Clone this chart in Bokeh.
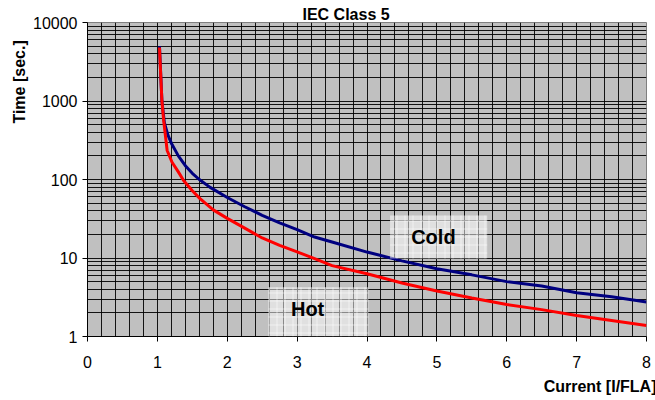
from bokeh.plotting import figure
from bokeh.models import (FixedTicker, NumeralTickFormatter, Title, Label,
                          BoxAnnotation)
from bokeh.embed import file_html
from bokeh.resources import INLINE

# ---- data ----
cold_x = [1.03, 1.065, 1.1, 1.15, 1.2, 1.3, 1.4, 1.5, 1.6, 1.75, 2.0, 2.25, 2.5,
          2.75, 3.0, 3.25, 3.5, 4.0, 4.5, 5.0, 5.5, 6.0, 6.5, 7.0, 7.5, 8.0]
cold_y = [5000, 1000, 530, 370, 290, 200, 150, 120, 100, 80, 59, 45, 35,
          28, 23, 18.5, 16, 11.9, 9.2, 7.3, 6.1, 5.0, 4.4, 3.6, 3.2, 2.75]

hot_x = [1.03, 1.065, 1.09, 1.14, 1.21, 1.3, 1.375, 1.5, 1.61, 1.8, 2.0, 2.25,
         2.5, 2.75, 3.0, 3.25, 3.5, 4.0, 4.5, 5.0, 5.5, 6.0, 6.5, 7.0, 7.5, 8.0]
hot_y = [4800, 1000, 565, 234, 166, 125, 97, 72, 57, 41, 32, 24,
         18, 14.5, 12, 9.8, 8.0, 6.3, 4.8, 3.8, 3.1, 2.55, 2.2, 1.85, 1.6, 1.38]

x_ticks = [0, 1, 2, 3, 4, 5, 6, 7, 8]
y_ticks = [1, 10, 100, 1000, 10000]

title_text = "IEC Class 5"
x_label = "Current [I/FLA]"
y_label = "Time [sec.]"

FONT = "Liberation Sans"

x_minor = [round(i * 0.2, 1) for i in range(41) if i % 5 != 0]
y_minor = [m * d for d in [1, 10, 100, 1000] for m in range(2, 10)]

p = figure(frame_width=559, frame_height=314,
           x_range=(0, 8), y_range=(1, 10000), y_axis_type="log",
           output_backend="svg", toolbar_location=None,
           min_border_left=87, min_border_right=9,
           min_border_top=22, min_border_bottom=64)

p.background_fill_color = "#C0C0C0"
p.border_fill_color = "white"
p.outline_line_color = "#808080"

# title
p.title.text = title_text
p.title.text_font = FONT
p.title.text_font_size = "16px"
p.title.text_font_style = "bold"
p.title.text_color = "black"
p.title.align = "left"
p.title.offset = 215
p.title.standoff = 0

# axes
p.xaxis.ticker = FixedTicker(ticks=x_ticks, minor_ticks=x_minor)
p.yaxis.ticker = FixedTicker(ticks=y_ticks, minor_ticks=y_minor)
p.yaxis.formatter = NumeralTickFormatter(format="0")
for ax in (p.xaxis[0], p.yaxis[0]):
    ax.axis_line_color = "black"
    ax.major_tick_line_color = "black"
    ax.major_tick_out = 5
    ax.major_tick_in = 0
    ax.minor_tick_line_color = None
    ax.major_label_text_font = FONT
    ax.major_label_text_font_size = "16px"
    ax.major_label_text_color = "black"
p.xaxis.major_label_standoff = 14
p.yaxis.major_label_standoff = 5

# grids
for g in (p.xgrid[0], p.ygrid[0]):
    g.grid_line_color = "black"
    g.grid_line_alpha = 0.9
    g.minor_grid_line_color = "black"
    g.minor_grid_line_alpha = 0.9

# axis titles
p.add_layout(Title(text=x_label, align="right", offset=-10,
                   text_font=FONT, text_font_size="16px", text_color="black",
                   text_font_style="bold", standoff=11), "below")
# trailing no-break spaces push the vertical title down from the top edge
p.add_layout(Title(text=y_label + "\u00a0" * 4, align="right",
                   text_font=FONT, text_font_size="16px", text_color="black",
                   text_font_style="bold", standoff=5), "left")

# label boxes
for l, r, b, t in [(4.33, 5.72, 9.86, 34.8), (2.59, 4.02, 1.0, 4.25)]:
    p.add_layout(BoxAnnotation(left=l, right=r, bottom=b, top=t,
                               fill_color="white", fill_alpha=0.5,
                               line_color=None,
                               hatch_pattern="+", hatch_color="white",
                               hatch_alpha=0.5, hatch_scale=8,
                               hatch_weight=1))

# curves
p.line(cold_x, cold_y, line_color="#000080", line_width=3)
p.line(hot_x, hot_y, line_color="#FF0000", line_width=3)

for txt, x, y in [("Cold", 4.95, 18.4), ("Hot", 3.15, 2.25)]:
    p.add_layout(Label(x=x, y=y, text=txt, text_align="center",
                       text_baseline="middle", text_font=FONT,
                       text_font_size="20px", text_font_style="bold",
                       text_color="black"))

open("out.html", "w").write(file_html(p, INLINE))
